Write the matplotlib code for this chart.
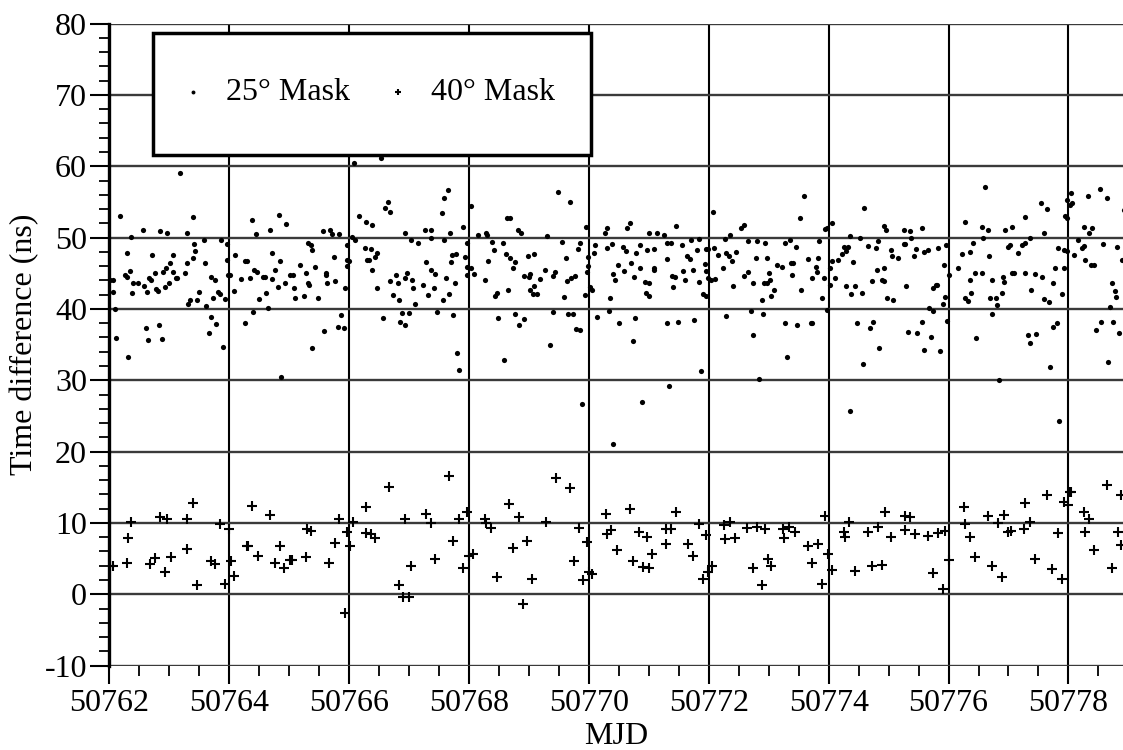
import numpy as np
import matplotlib
matplotlib.use("Agg")
import matplotlib.pyplot as plt
from matplotlib.ticker import MultipleLocator
from matplotlib.patches import Rectangle

plt.rcParams['font.family'] = ['Liberation Serif', 'DejaVu Serif']
plt.rcParams['axes.unicode_minus'] = False

MJD_START = 50762

# 25 deg mask: (days after MJD_START, time difference in ns)
mask25_day = [
    0.02, 0.07, 0.07, 0.09, 0.12, 0.18, 0.26, 0.29, 0.30, 0.31, 0.34, 0.37, 0.38, 0.40, 0.48,
    0.57, 0.58, 0.61, 0.63, 0.64, 0.67, 0.69, 0.72, 0.76, 0.78, 0.82, 0.83, 0.84, 0.88, 0.89,
    0.93, 0.97, 0.94, 0.99, 1.02, 1.06, 1.07, 1.11, 1.13, 1.18, 1.26, 1.29, 1.30, 1.32, 1.34,
    1.39, 1.40, 1.41, 1.43, 1.47, 1.49, 1.58, 1.59, 1.62, 1.66, 1.69, 1.69, 1.73, 1.76, 1.78,
    1.82, 1.84, 1.86, 1.89, 1.93, 1.96, 1.97, 1.98, 2.02, 2.08, 2.10, 2.19, 2.26, 2.27, 2.29,
    2.34, 2.38, 2.39, 2.41, 2.44, 2.47, 2.50, 2.57, 2.59, 2.62, 2.64, 2.68, 2.71, 2.72, 2.77,
    2.82, 2.83, 2.84, 2.87, 2.93, 2.94, 3.01, 3.06, 3.08, 3.09, 3.18, 3.24, 3.29, 3.31, 3.37,
    3.32, 3.34, 3.39, 3.39, 3.43, 3.49, 3.57, 3.58, 3.61, 3.62, 3.64, 3.68, 3.72, 3.75, 3.76,
    3.83, 3.82, 3.92, 3.86, 3.94, 3.96, 3.96, 3.97, 4.00, 4.05, 4.10, 4.08, 4.16, 4.26, 4.28,
    4.30, 4.33, 4.36, 4.38, 4.39, 4.43, 4.46, 4.47, 4.54, 4.56, 4.60, 4.65, 4.68, 4.69, 4.74,
    4.79, 4.82, 4.83, 4.85, 4.88, 4.93, 4.93, 4.94, 4.97, 5.00, 5.04, 5.05, 5.07, 5.10, 5.15,
    5.23, 5.26, 5.37, 5.29, 5.32, 5.36, 5.37, 5.41, 5.44, 5.47, 5.55, 5.57, 5.58, 5.59, 5.62,
    5.65, 5.67, 5.68, 5.70, 5.72, 5.79, 5.74, 5.76, 5.80, 5.84, 5.90, 5.93, 5.96, 5.97, 5.97,
    6.04, 6.04, 6.09, 6.15,
    6.29, 6.30, 6.26, 6.31, 6.38, 6.41, 6.43, 6.46, 6.49, 6.57, 6.58, 6.61, 6.63, 6.68, 6.65,
    6.69, 6.76, 6.73, 6.77, 6.82, 6.86, 6.84, 6.92, 7.00, 6.92, 6.98, 7.01, 7.01, 7.06, 7.14,
    7.08, 7.09, 7.18, 7.27, 7.30, 7.36, 7.41, 7.44, 7.40, 7.48, 7.56, 7.59, 7.62, 7.63, 7.70,
    7.77, 7.66, 7.74, 7.69, 7.78, 7.85, 7.82, 7.86, 7.88, 7.94, 7.96, 7.98, 7.99, 7.97, 8.02,
    8.06, 8.10, 8.09, 8.13, 8.27, 8.30, 8.31, 8.33, 8.36, 8.39, 8.40, 8.41, 8.44, 8.48, 8.51,
    8.57, 8.62, 8.58, 8.63, 8.69, 8.71, 8.73, 8.76, 8.77, 8.79, 8.85, 8.85, 8.88, 8.94, 9.01,
    8.96, 9.01, 8.97, 9.00, 9.08, 9.09, 9.09, 9.13, 9.26, 9.30, 9.31, 9.31, 9.37, 9.34, 9.39,
    9.43, 9.41, 9.46, 9.49, 9.56, 9.57, 9.61, 9.63, 9.69, 9.70, 9.74, 9.76, 9.80, 9.83, 9.83,
    9.87, 9.91, 9.95, 9.93, 9.95, 9.99, 9.96, 9.98, 10.04, 10.10, 10.07, 10.08, 10.16, 10.24,
    10.27, 10.29, 10.29, 10.33, 10.38, 10.36, 10.41, 10.45, 10.53, 10.59, 10.58, 10.66, 10.66,
    10.73, 10.74, 10.70, 10.79, 10.81, 10.84, 10.89, 10.91, 10.92, 10.97, 11.02, 10.94, 10.97,
    11.01, 11.04, 11.09, 11.14, 11.23, 11.27, 11.28, 11.31, 11.35, 11.37, 11.41, 11.39, 11.45,
    11.48, 11.53,
    11.54, 11.59, 11.66, 11.71, 11.73, 11.73, 11.79, 11.81, 11.82, 11.84, 11.89, 11.92, 11.94,
    11.97, 11.97, 12.02, 12.03, 12.05, 12.06, 12.15, 12.10, 12.23, 12.26, 12.29, 12.32, 12.29,
    12.35, 12.37, 12.36, 12.41, 12.44, 12.47, 12.53, 12.55, 12.58, 12.59, 12.66, 12.69, 12.73,
    12.74, 12.79, 12.81, 12.82, 12.84, 12.89, 12.93, 12.92, 12.93, 12.96, 12.97, 13.07, 13.04,
    13.06, 13.16, 13.26, 13.35, 13.25, 13.28, 13.29, 13.32, 13.37, 13.42, 13.46, 13.48, 13.56,
    13.56, 13.59, 13.59, 13.66, 13.67, 13.74, 13.70, 13.74, 13.79, 13.81, 13.83, 13.86, 13.90,
    13.92, 13.94, 13.95, 13.97, 14.01, 14.15, 14.23, 14.27, 14.28, 14.32, 14.35, 14.36, 14.38,
    14.41, 14.44, 14.56, 14.46, 14.55, 14.60, 14.58, 14.66, 14.67, 14.69, 14.79, 14.73, 14.73,
    14.81, 14.84, 14.89, 14.91, 14.93, 14.94, 15.06, 14.99, 15.03, 15.06, 15.09, 15.16, 15.23,
    15.28, 15.27, 15.28, 15.33, 15.36, 15.46, 15.36, 15.38, 15.44, 15.54, 15.56, 15.59, 15.67,
    15.60, 15.64, 15.69, 15.74, 15.75, 15.81, 15.78, 15.82, 15.85, 15.90, 15.92, 15.97, 15.93,
    15.95, 15.98, 15.97, 16.04, 16.06, 16.03, 16.10, 16.16, 16.22, 16.26, 16.26, 16.28, 16.32,
    16.35, 16.37, 16.43, 16.40, 16.46, 16.53, 16.54, 16.57, 16.65, 16.66, 16.69, 16.72, 16.74,
    16.78, 16.80, 16.81, 16.84, 16.89, 16.92,
]
mask25_ns = [
    44.0, 44.0, 42.4, 40.0, 35.9, 53.0, 44.7, 44.5, 47.9, 33.2, 45.3, 50.1, 42.2, 43.7, 43.7,
    51.1, 43.2, 37.4, 42.4, 35.7, 44.3, 44.1, 47.5, 45.1, 42.8, 42.5, 37.7, 50.9, 35.8, 45.2,
    43.1, 50.7, 45.8, 43.6, 46.4, 45.2, 47.5, 44.3, 44.3, 59.1, 45.1, 46.4, 50.6, 40.7, 41.3,
    52.9, 47.2, 49.1, 48.1, 41.3, 42.4, 49.7, 46.5, 40.4, 36.6, 44.5, 38.9, 41.5, 44.1, 37.9,
    42.4, 42.1, 49.7, 34.6, 41.4, 46.8, 49.1, 44.7, 44.7, 42.5, 47.6, 44.2, 38.1, 46.7, 46.7,
    44.4, 52.5, 39.6, 45.4, 50.5, 45.2, 41.4, 44.5, 44.5, 42.2, 40.2, 51.0, 44.2, 47.8, 45.4,
    43.1, 53.2, 46.7, 30.4, 43.7, 51.9, 44.8, 44.8, 43.0, 41.5, 46.1, 41.8, 45.1, 49.3, 48.9,
    43.7, 43.4, 48.2, 34.5, 45.9, 41.6, 50.9, 36.9, 44.7, 45.1, 43.6, 51.1, 50.5, 47.3, 43.9,
    50.5, 37.5, 37.3, 39.2, 43.0, 48.9, 46.0, 46.8, 46.7, 50.1, 49.7, 60.4, 53.0, 48.6, 52.2,
    46.8, 46.8, 48.4, 51.7, 45.5, 47.3, 47.9, 42.9, 61.2, 38.8, 54.2, 55.0, 43.9, 53.6, 42.0,
    44.7, 43.7, 41.2, 38.2, 39.4, 37.8, 44.4, 50.7, 45.0, 39.4, 49.7, 44.0, 43.0, 40.7, 49.2,
    43.4, 51.1, 51.1, 46.6, 41.9, 50.0, 45.5, 42.9, 44.9, 39.6, 53.5, 41.3, 49.6, 55.6, 44.4,
    56.7, 42.1, 50.7, 46.6, 47.6, 47.7, 39.1, 43.6, 33.8, 31.4, 51.5, 47.3, 44.8, 49.3, 45.9,
    45.7, 54.4, 44.9, 50.3,
    50.7, 50.3, 44.1, 46.7, 49.4, 48.3, 41.8, 42.2, 38.8, 49.3, 32.8, 47.7, 52.7, 52.7, 42.6,
    47.1, 46.6, 45.8, 39.3, 51.0, 50.7, 37.7, 44.6, 44.5, 38.6, 47.4, 44.9, 42.6, 42.1, 42.1,
    47.7, 43.2, 44.2, 45.5, 50.2, 35.0, 44.6, 45.2, 39.6, 56.4, 49.4, 41.7, 47.1, 43.9, 44.3,
    44.6, 39.3, 39.3, 55.0, 37.2, 37.0, 48.4, 49.3, 26.7, 42.0, 51.5, 47.3, 46.0, 45.2, 43.1,
    42.7, 48.9, 47.9, 38.9, 50.7, 51.4, 48.5, 39.7, 41.5, 49.1, 21.1, 44.9, 44.0, 46.1, 38.0,
    48.7, 48.1, 45.3, 51.4, 52.0, 46.5, 35.5, 44.5, 38.7, 47.8, 48.9, 45.7, 26.9, 43.8, 43.7,
    42.2, 41.8, 48.3, 50.6, 45.7, 45.4, 48.4, 50.7, 50.4, 47.0, 38.1, 49.3, 49.3, 29.2, 44.6,
    44.5, 43.1, 51.6, 38.2, 49.0, 45.3, 44.0, 47.4, 47.0, 49.7, 45.4, 38.4, 48.2, 43.8, 49.8,
    31.3, 42.1, 41.8, 46.3, 48.4, 48.4, 45.3, 44.3, 44.1, 44.2, 53.6, 48.5, 47.5, 45.7,
    49.8, 39.0, 47.8, 47.4, 46.7, 50.3, 43.2, 48.0, 51.3, 51.7, 44.6, 49.5, 45.2,
    43.6, 36.4, 39.7, 47.2, 49.5, 30.2, 41.3, 39.3, 43.7, 43.7, 44.0, 49.3, 47.1,
    45.0, 41.8, 42.6, 46.1, 45.9, 49.3, 38.1, 33.2, 49.6, 46.4, 46.4, 44.7, 48.7,
    37.7, 52.8,
    42.7, 55.8, 47.0, 38.1, 38.0, 44.4, 45.9, 45.2, 47.1, 49.5, 41.5, 44.4, 51.2,
    51.4, 39.9, 45.7, 43.4, 52.1, 46.7, 46.8, 44.4, 47.7, 48.7, 48.1, 48.7, 43.2,
    50.2, 42.1, 25.7, 46.6, 43.2, 38.0, 49.9, 42.3, 32.3, 54.2, 48.8, 37.4, 43.9,
    38.2, 48.5, 45.4, 49.5, 34.5, 44.1, 43.9, 45.7, 51.6, 51.1, 41.6, 41.3, 48.2,
    47.4, 47.1, 51.1, 50.9, 49.1, 49.1, 43.2, 36.7, 50.0, 47.4, 48.4, 36.6, 51.4,
    38.2, 34.3, 48.0, 48.3, 40.2, 39.7, 36.1, 43.0, 43.3, 43.3, 48.6, 34.1, 40.7,
    46.2, 41.7, 49.0, 38.3, 44.8, 45.8, 47.7, 52.2, 41.6, 41.1, 48.0, 44.0, 42.3,
    49.3, 45.1, 45.0, 35.9, 51.5, 57.1, 50.0, 51.0, 47.4, 41.6, 41.6, 44.0, 39.3,
    40.5, 30.0, 42.3, 44.5, 43.8, 51.1, 51.5, 48.7, 48.9, 45.0, 45.1, 47.8, 49.0,
    49.3, 52.9, 45.0, 36.4, 35.2, 36.5, 50.0, 42.7, 44.9, 54.8, 44.5, 41.4, 41.0,
    50.7, 54.0, 31.8, 43.6, 37.5, 38.1, 45.8, 48.6, 24.3, 42.1, 48.2, 48.1, 45.8,
    53.0, 52.7, 55.3, 56.2, 54.8, 54.6, 47.6, 49.7, 48.5, 48.8, 51.5, 46.9, 55.8,
    50.7, 46.2, 46.2, 51.4, 37.1, 56.8, 38.2, 49.1, 55.5, 32.5, 40.3, 43.6, 38.2,
    42.5, 41.7, 48.7, 36.6, 46.9, 53.9,
]

# 40 deg mask
mask40_day = [
    0.01, 0.07, 0.30, 0.32, 0.37, 0.68, 0.76, 0.84, 0.97, 0.93, 1.03, 1.30, 1.30, 1.40, 1.47,
    1.69, 1.76, 1.84, 1.93, 1.99, 2.03, 2.08, 2.29, 2.31, 2.38, 2.48, 2.68, 2.77, 2.85, 2.92,
    3.01, 3.05, 3.29, 3.30, 3.37, 3.67, 3.76, 3.83, 3.93, 3.96, 4.01, 4.06, 4.28, 4.28, 4.36,
    4.44, 4.66, 4.83, 4.90, 5.00, 4.94, 5.04, 5.28, 5.36, 5.44, 5.66, 5.74, 5.83, 5.90, 5.96,
    6.00, 6.07, 6.27, 6.28, 6.37, 6.46, 6.67, 6.73, 6.83, 6.90, 6.96, 7.05, 7.29, 7.46, 7.68,
    7.76, 7.84, 7.91, 7.97, 8.01, 8.05,
    8.29, 8.30, 8.37, 8.47, 8.68, 8.74, 8.84, 8.91, 9.01, 8.97, 9.06, 9.28, 9.29, 9.37, 9.46,
    9.66, 9.74, 9.83, 9.91, 9.95, 9.99, 10.06, 10.26, 10.27, 10.36, 10.44, 10.64, 10.73, 10.81,
    10.89, 10.94, 10.99, 11.03, 11.24, 11.34, 11.26, 11.44, 11.65, 11.72, 11.82, 11.89, 11.94,
    11.99, 12.05, 12.26, 12.28, 12.34, 12.44,
    12.65, 12.73, 12.83, 12.89, 12.94, 13.04, 13.27, 13.36, 13.28, 13.44, 13.66, 13.74, 13.82,
    13.91, 13.94, 14.00, 14.26, 14.27, 14.36, 14.44, 14.65, 14.73, 14.82, 14.89, 14.93, 14.99,
    15.05, 15.26, 15.27, 15.36, 15.44, 15.65, 15.73, 15.82, 15.89, 15.93, 15.99, 16.03, 16.05,
    16.26, 16.27, 16.34, 16.43, 16.64, 16.73, 16.82, 16.88, 16.88,
]
mask40_ns = [
    4.0, 3.9, 4.4, 7.9, 10.1, 4.3, 5.1, 10.8, 10.6, 3.1, 5.2, 10.5, 6.4, 12.8, 1.3,
    4.6, 4.2, 9.8, 1.5, 9.1, 4.7, 2.6, 6.7, 6.8, 12.4, 5.3, 11.1, 4.4, 6.7, 3.7,
    4.8, 4.8, 5.2, 9.2, 8.9, 4.4, 7.2, 10.5, -2.6, 8.8, 6.7, 10.1, 12.3, 8.6, 8.4,
    7.9, 15.0, 1.3, -0.4, -0.4, 10.6, 4.0, 11.2, 10.0, 5.0, 16.6, 7.5, 10.6, 3.7, 11.5,
    5.4, 5.6, 10.6, 10.0, 9.3, 2.4, 12.6, 6.5, 10.8, -1.3, 7.5, 2.2, 10.2, 16.3, 14.9,
    4.6, 9.3, 2.0, 7.4, 3.1, 2.9,
    11.3, 8.5, 9.0, 6.2, 11.9, 4.6, 8.8, 3.8, 3.75, 8.1, 5.6, 7.0, 9.2, 9.2, 11.6,
    7.1, 5.4, 9.8, 2.1, 8.3, 3.1, 4.0, 9.7, 7.7, 10.2, 7.9, 9.3, 3.7, 9.4,
    1.3, 9.2, 5.0, 4.0, 9.2, 9.5, 7.9, 8.7, 6.8, 4.4, 7.1, 1.5, 11.0,
    5.7, 3.4, 8.75, 8.1, 10.1, 3.2,
    8.75, 3.9, 9.4, 4.1, 11.5, 8.1, 11.0, 10.9, 9.0, 8.4, 8.2, 3.0, 8.6,
    0.8, 8.9, 4.8, 12.2, 9.8, 8.0, 5.2, 11.0, 4.0, 10.0, 2.4, 11.1, 8.75,
    8.9, 9.2, 12.8, 10.1, 5.0, 13.9, 3.6, 8.6, 2.2, 13.0, 12.5, 14.4, 14.3,
    11.5, 8.75, 10.6, 6.2, 15.3, 3.7, 8.75, 13.9, 6.9,
]

x_ticks = [50762, 50764, 50766, 50768, 50770, 50772, 50774, 50776, 50778]
y_ticks = [-10, 0, 10, 20, 30, 40, 50, 60, 70, 80]

x25 = MJD_START + np.array(mask25_day)
x40 = MJD_START + np.array(mask40_day)

FS = 23

fig = plt.figure(figsize=(11.23, 7.5), dpi=100)
ax = fig.add_axes([0.0973, 0.1125, 0.9027, 0.8560])

ax.scatter(x25, mask25_ns, s=14, color='black', marker='o', linewidths=0, label='25° Mask', zorder=3)
ax.scatter(x40, mask40_ns, s=45, color='black', marker='+', linewidths=1.5, label='40° Mask', zorder=3)

ax.set_xlim(50762, 50778.91)
ax.set_ylim(-10, 80)
ax.set_xticks(x_ticks)
ax.set_yticks(y_ticks)
ax.set_xticklabels([str(t) for t in x_ticks])
ax.xaxis.set_minor_locator(MultipleLocator(0.5))
ax.yaxis.set_minor_locator(MultipleLocator(2))

# grid: solid black verticals, darker grey horizontals
ax.grid(True, axis='x', which='major', color='black', linewidth=1.5, zorder=1)
ax.grid(True, axis='y', which='major', color='#3a3a3a', linewidth=1.7, zorder=1)
ax.set_axisbelow(True)

for side in ['top', 'right', 'bottom']:
    ax.spines[side].set_visible(False)
ax.spines['left'].set_linewidth(2.4)

ax.tick_params(axis='x', which='major', direction='out', length=13, width=1.5,
               labelsize=FS, pad=4)
ax.tick_params(axis='y', which='major', direction='out', length=14, width=1.5,
               labelsize=FS, pad=2)
ax.tick_params(axis='both', which='minor', direction='out', length=7, width=1.3)

ax.set_xlabel('MJD', fontsize=FS, labelpad=3)
ax.set_ylabel('Time difference (ns)', fontsize=FS, labelpad=4)

# legend box
box = Rectangle((0.043, 0.795), 0.432, 0.191, transform=ax.transAxes, facecolor='white',
                edgecolor='black', linewidth=2.5, zorder=4)
ax.add_patch(box)
leg = ax.legend(loc='center left', bbox_to_anchor=(0.0668, 0.893), ncol=2, fontsize=FS,
                frameon=False, borderpad=0, borderaxespad=0, handlelength=1.0,
                handletextpad=0.53, columnspacing=1.0, markerscale=0.75, scatterpoints=1)
leg.set_zorder(5)

fig.savefig('out.png', dpi=100)
